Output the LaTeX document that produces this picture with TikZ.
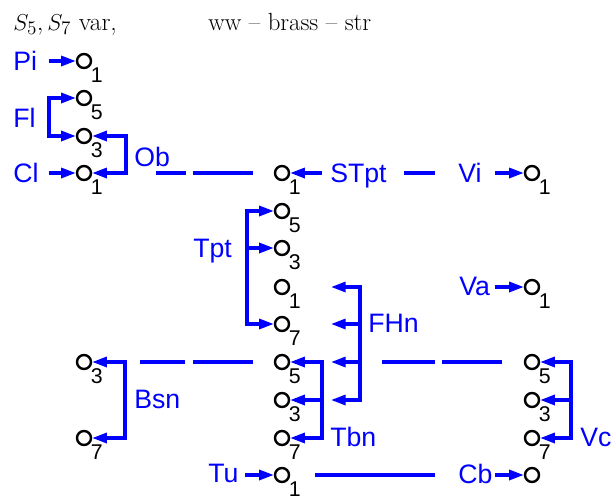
\documentclass[tikz,border=0pt]{standalone}
\usepackage{fontspec}
\newfontfamily\sansfam{Liberation Sans}
\usetikzlibrary{arrows.meta}

\begin{document}
\begin{tikzpicture}[x=0.75pt,y=0.75pt,yscale=-1,xscale=1,
  hole/.style={circle,draw=black,line width=1.8pt,inner sep=0pt,minimum size=10.5pt,fill=white},
  num/.style={font=\sansfam\fontsize{16}{16}\selectfont,inner sep=0.6pt},
  instr/.style={text=blue,font=\sansfam\fontsize{20}{20}\selectfont,inner sep=0pt,text height=14.4pt,text depth=0pt,anchor=west},
  link/.style={draw=blue,line width=2.3pt},
  arr/.style={link,-{Triangle[length=11pt,width=7.5pt]}},
  arrs/.style={link,{Triangle[length=11pt,width=7.5pt]}-{Triangle[length=11pt,width=7.5pt]}}]
\useasboundingbox (0,0) rectangle (612,500);

% heading
\node[anchor=base west,inner sep=0pt,font=\fontsize{19}{22}\selectfont] (ttl) at (13,30) {$S_5, S_7$ var,};
\node[anchor=base west,inner sep=0pt,font=\fontsize{18.6}{22}\selectfont] (grp) at (208,30) {ww -- brass -- str};

% pitch holes
\node[hole,label={[num]below right:1}] (pi1) at (84,61) {};
\node[hole,label={[num]below right:5}] (fl5) at (84,98) {};
\node[hole,label={[num]below right:3}] (fl3) at (84,136) {};
\node[hole,label={[num]below right:1}] (cl1) at (84,173) {};
\node[hole,label={[num]below right:1}] (st1) at (282,173) {};
\node[hole,label={[num]below right:1}] (vi1) at (532,173) {};
\node[hole,label={[num]below right:5}] (tp5) at (282,211) {};
\node[hole,label={[num]below right:3}] (tp3) at (282,248) {};
\node[hole,label={[num]below right:1}] (fh1) at (282,287) {};
\node[hole,label={[num]below right:7}] (tp7) at (282,324) {};
\node[hole,label={[num]below right:1}] (va1) at (532,287) {};
\node[hole,label={[num]below right:3}] (bs3) at (84,362) {};
\node[hole,label={[num]below right:5}] (tb5) at (282,362) {};
\node[hole,label={[num]below right:5}] (vc5) at (532,362) {};
\node[hole,label={[num]below right:3}] (tb3) at (282,400) {};
\node[hole,label={[num]below right:3}] (vc3) at (532,400) {};
\node[hole,label={[num]below right:7}] (bs7) at (84,438) {};
\node[hole,label={[num]below right:7}] (tb7) at (282,438) {};
\node[hole,label={[num]below right:7}] (vc7) at (532,438) {};
\node[hole,label={[num]below right:1}] (tu1) at (282,475) {};
\node[hole] (cb1) at (532,475) {};

% instruments
\node[instr] (pi) at (13,61) {Pi};
\node[instr] (fl) at (13,118) {Fl};
\node[instr] (cl) at (13,173) {Cl};
\node[instr] (ob) at (134,157) {Ob};
\node[instr] (stpt) at (330,173) {STpt};
\node[instr] (vi) at (458,173) {Vi};
\node[instr] (tpt) at (193,248) {Tpt};
\node[instr] (va) at (459,286) {Va};
\node[instr] (fhn) at (368,323) {FHn};
\node[instr] (bsn) at (134,399) {Bsn};
\node[instr] (tbn) at (330,437) {Tbn};
\node[instr] (vc) at (580,437) {Vc};
\node[instr] (tu) at (208,473) {Tu};
\node[instr] (cb) at (458,474) {Cb};

% bracket spines and arrow tails
\coordinate (flx) at (49,0);
\coordinate (obx) at (126,0);
\coordinate (tpx) at (247,0);
\coordinate (fhx) at (360,0);
\coordinate (fhe) at (331,0);
\coordinate (bsx) at (125,0);
\coordinate (tbx) at (322,0);
\coordinate (vcx) at (571,0);
\coordinate (pi-t) at (49,61);
\coordinate (cl-t) at (49,173);
\coordinate (st-t) at (322,173);
\coordinate (vi-t) at (495,173);
\coordinate (va-t) at (495,287);
\coordinate (tu-t) at (245,475);
\coordinate (cb-t) at (495,475);

\draw[arr] (pi-t) -- (pi1);
\draw[arr] (cl-t) -- (cl1);
\draw[arr] (st-t) -- (st1);
\draw[arr] (vi-t) -- (vi1);
\draw[arr] (va-t) -- (va1);
\draw[arr] (tu-t) -- (tu1);
\draw[arr] (cb-t) -- (cb1);

\draw[arrs] (fl5) -- (fl5 -| flx) -- (fl3 -| flx) -- (fl3);
\draw[arrs] (fl3) -- (fl3 -| obx) -- (cl1 -| obx) -- (cl1);
\draw[arrs] (tp5) -- (tp5 -| tpx) -- (tp7 -| tpx) -- (tp7);
\draw[arr] (tp3 -| tpx) -- (tp3);
\draw[arrs] (bs3) -- (bs3 -| bsx) -- (bs7 -| bsx) -- (bs7);
\draw[arrs] (tb5) -- (tb5 -| tbx) -- (tb7 -| tbx) -- (tb7);
\draw[arr] (tb3 -| tbx) -- (tb3);
\draw[arrs] (vc5) -- (vc5 -| vcx) -- (vc7 -| vcx) -- (vc7);
\draw[arr] (vc3 -| vcx) -- (vc3);
\draw[arrs] (fh1 -| fhe) -- (fh1 -| fhx) -- (tb3 -| fhx) -- (tb3 -| fhe);
\draw[arr] (tp7 -| fhx) -- (tp7 -| fhe);
\draw[arr] (tb5 -| fhx) -- (tb5 -| fhe);

% broken joins between groups
\path (156,173) coordinate (wb1) (186,173) coordinate (wb2)
      (193,173) coordinate (wb3) (253,173) coordinate (wb4)
      (404,173) coordinate (ws1) (435,173) coordinate (ws2)
      (140,362) coordinate (bb1) (185,362) coordinate (bb2)
      (193,362) coordinate (bb3) (253,362) coordinate (bb4)
      (382,362) coordinate (bs1) (435,362) coordinate (bs2)
      (442,362) coordinate (bs3) (502,362) coordinate (bs4)
      (315,475) coordinate (ts1) (435,475) coordinate (ts2);
\draw[link] (wb1) -- (wb2) (wb3) -- (wb4) (ws1) -- (ws2);
\draw[link] (bb1) -- (bb2) (bb3) -- (bb4) (bs1) -- (bs2) (bs3) -- (bs4);
\draw[link] (ts1) -- (ts2);
\end{tikzpicture}
\end{document}
